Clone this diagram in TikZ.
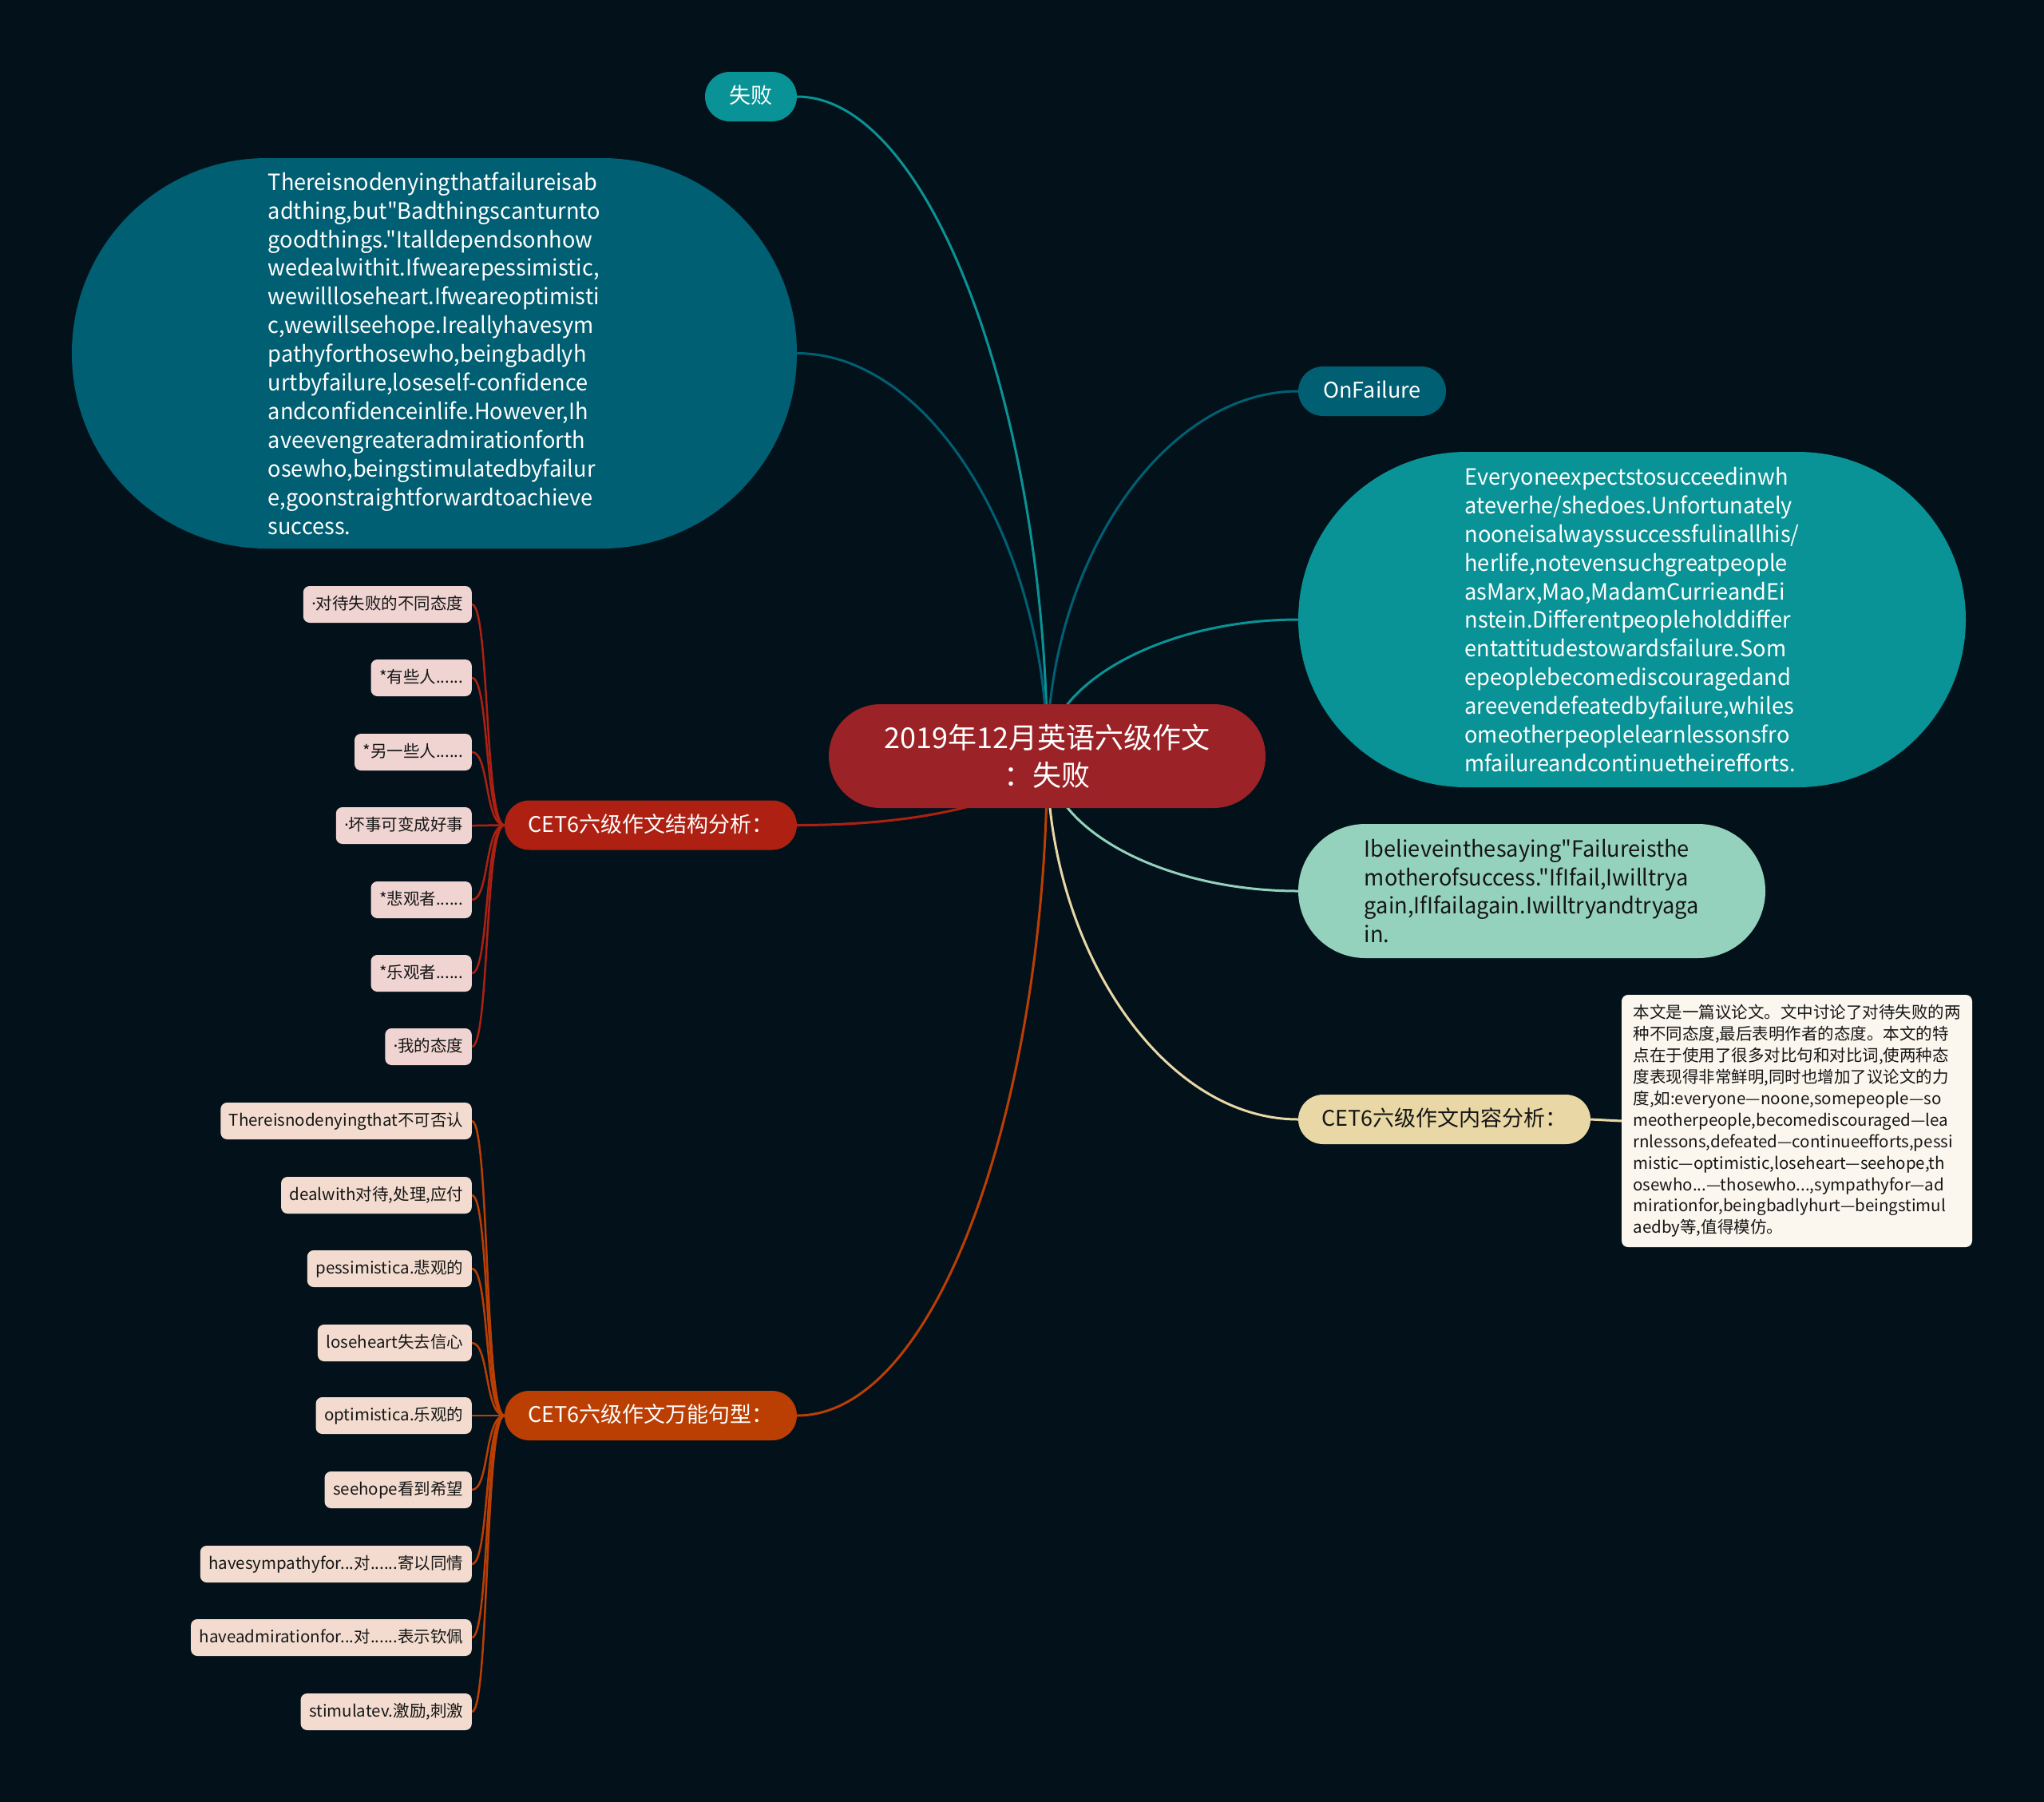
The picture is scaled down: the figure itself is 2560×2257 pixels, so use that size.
\documentclass[tikz,border=0pt]{standalone}
\usepackage{fontspec}
\setmainfont{Noto Sans CJK SC}[Ligatures=TeXOff]
\newfontfamily\bubblefont{Noto Sans CJK SC}[Ligatures=TeXOff, FakeStretch=0.97]
\newfontfamily\dotfont{Noto Sans}
\newcommand{\mdot}{{\dotfont ·}}
\usetikzlibrary{calc}
\definecolor{bgc}{HTML}{03121A}
\definecolor{cred}{HTML}{9B2226}
\definecolor{sred}{HTML}{AE2012}
\definecolor{worange}{HTML}{BB3E03}
\definecolor{cteal}{HTML}{0A9396}
\definecolor{dteal}{HTML}{005F73}
\definecolor{mint}{HTML}{94D2BD}
\definecolor{sand}{HTML}{E9D8A6}
\definecolor{sleaf}{HTML}{EFD4D2}
\definecolor{wleaf}{HTML}{F3DCCF}
\definecolor{notec}{HTML}{FBF7EE}
\definecolor{darktxt}{HTML}{161616}
\pgfdeclarelayer{bg}
\pgfdeclarelayer{edges}
\pgfsetlayers{bg,edges,main}
\tikzset{
  rootnode/.style={fill=cred, rounded corners=65pt, minimum width=547pt, minimum height=130pt,
    inner sep=0pt, align=center, text=white, font=\fontsize{36}{47}\selectfont},
  pill/.style={rounded corners=31pt, inner sep=0pt, minimum height=62pt, text=white,
    font=\fontsize{27}{32}\selectfont, text height=22pt, text depth=5pt},
  bubble/.style={inner sep=0pt, align=left, text=white, font=\bubblefont\fontsize{28}{35.9}\selectfont},
  sleafst/.style={fill=sleaf, rounded corners=8pt, minimum height=46pt, inner xsep=10.5pt,
    inner ysep=0pt, anchor=east, text=darktxt, font=\fontsize{20.5}{24}\selectfont,
    text height=16.5pt, text depth=3.5pt},
  wleafst/.style={sleafst, fill=wleaf},
  notest/.style={fill=notec, rounded corners=8pt, minimum width=439pt, minimum height=316pt,
    inner sep=0pt, align=left, text=darktxt, font=\fontsize{20.5}{26.9}\selectfont},
  mainline/.style={line width=3pt},
  leafline/.style={line width=2.5pt},
}
\begin{document}
\begin{tikzpicture}[x=1pt,y=-1pt]
\begin{pgfonlayer}{bg}
\fill[bgc] (0,0) rectangle (2560,2257);
\end{pgfonlayer}
\useasboundingbox (0,0) rectangle (2560,2257);

% root
\node[rootnode] (c) at (1311.5,947) {2019年12月英语六级作文\\：失败};

% first level
\node[pill, fill=cteal, minimum width=115pt] (f) at (940.5,121) {失败};
\node[pill, fill=dteal, minimum width=185pt] (of) at (1718.5,490) {OnFailure};
\node[pill, fill=sred, minimum width=366pt] (sa) at (815,1033.5) {CET6六级作文结构分析：};
\node[pill, fill=worange, minimum width=366pt] (wn) at (815,1773) {CET6六级作文万能句型：};
\node[pill, fill=sand, text=darktxt, minimum width=366pt] (ca) at (1809,1402) {CET6六级作文内容分析：};

% bubbles
\node[bubble, fill=dteal, minimum width=908pt, minimum height=489pt, rounded corners=244pt] (lb) at (544,442.5)
{Thereisnodenyingthatfailureisab\\
adthing,but"Badthingscanturnto\\
goodthings."Italldependsonhow\\
wedealwithit.Ifwearepessimistic,\\
wewillloseheart.Ifweareoptimisti\\
c,wewillseehope.Ireallyhavesym\\
pathyforthosewho,beingbadlyh\\
urtbyfailure,loseself-confidence\\
andconfidenceinlife.However,Ih\\
aveevengreateradmirationforth\\
osewho,beingstimulatedbyfailur\\
e,goonstraightforwardtoachieve\\
success.};

\node[bubble, fill=cteal, minimum width=836pt, minimum height=420pt, rounded corners=210pt] (rb) at (2044,776)
{Everyoneexpectstosucceedinwh\\
ateverhe/shedoes.Unfortunately\\
nooneisalwayssuccessfulinallhis/\\
herlife,notevensuchgreatpeople\\
asMarx,Mao,MadamCurrieandEi\\
nstein.Differentpeopleholddiffer\\
entattitudestowardsfailure.Som\\
epeoplebecomediscouragedand\\
areevendefeatedbyfailure,whiles\\
omeotherpeoplelearnlessonsfro\\
mfailureandcontinuetheirefforts.};

\node[bubble, fill=mint, text=darktxt, minimum width=585pt, minimum height=168pt, rounded corners=84pt] (lg) at (1918.5,1116)
{Ibelieveinthesaying"Failureisthe\\
motherofsuccess."IfIfail,Iwilltrya\\
gain,IfIfailagain.Iwilltryandtryaga\\
in.};

\node[notest] (nt) at (2250.5,1404)
{本文是一篇议论文。文中讨论了对待失败的两\\
种不同态度,最后表明作者的态度。本文的特\\
点在于使用了很多对比句和对比词,使两种态\\
度表现得非常鲜明,同时也增加了议论文的力\\
度,如:everyone—noone,somepeople—so\\
meotherpeople,becomediscouraged—lea\\
rnlessons,defeated—continueefforts,pessi\\
mistic—optimistic,loseheart—seehope,th\\
osewho...—thosewho...,sympathyfor—ad\\
mirationfor,beingbadlyhurt—beingstimul\\
aedby等,值得模仿。};

% structure leaves
\node[sleafst] (s1) at (591,757) {\mdot 对待失败的不同态度};
\node[sleafst] (s2) at (591,849) {*有些人......};
\node[sleafst] (s3) at (591,942) {*另一些人......};
\node[sleafst] (s4) at (591,1034) {\mdot 坏事可变成好事};
\node[sleafst] (s5) at (591,1127) {*悲观者......};
\node[sleafst] (s6) at (591,1219) {*乐观者......};
\node[sleafst] (s7) at (591,1311) {\mdot 我的态度};

% sentence leaves
\node[wleafst] (w1) at (591,1404) {Thereisnodenyingthat不可否认};
\node[wleafst] (w2) at (591,1497) {dealwith对待,处理,应付};
\node[wleafst] (w3) at (591,1589) {pessimistica.悲观的};
\node[wleafst] (w4) at (591,1682) {loseheart失去信心};
\node[wleafst] (w5) at (591,1773) {optimistica.乐观的};
\node[wleafst] (w6) at (591,1866) {seehope看到希望};
\node[wleafst] (w7) at (591,1959) {havesympathyfor...对......寄以同情};
\node[wleafst] (w8) at (591,2051) {haveadmirationfor...对......表示钦佩};
\node[wleafst] (w9) at (591,2144) {stimulatev.激励,刺激};

\begin{pgfonlayer}{edges}
\draw[mainline, cteal]   (f.east)  .. controls +(170,0)  and +(0,-420) .. (c.center);
\draw[mainline, dteal]   (lb.east) .. controls +(170,0)  and +(0,-260) .. (c.center);
\draw[mainline, dteal]   (of.west) .. controls +(-170,0) and +(0,-240) .. (c.center);
\draw[mainline, cteal]   (rb.west) .. controls +(-170,0) and +(0,-90)  .. (c.center);
\draw[mainline, mint]    (lg.west) .. controls +(-170,0) and +(0,90)   .. (c.center);
\draw[mainline, sand]    (ca.west) .. controls +(-170,0) and +(0,240)  .. (c.center);
\draw[mainline, sred]    (sa.east) .. controls +(200,0)  and +(0,40)   .. (c.center);
\draw[mainline, worange] (wn.east) .. controls +(180,0)  and +(0,420)  .. (c.center);
\draw[mainline, sand]    (ca.east) -- (nt.west);
\foreach \n in {s1,s2,s3,s4,s5,s6,s7}
  \draw[leafline, sred] (sa.west) .. controls +(-25,0) and +(22,0) .. (\n.east);
\foreach \n in {w1,w2,w3,w4,w5,w6,w7,w8,w9}
  \draw[leafline, worange] (wn.west) .. controls +(-25,0) and +(22,0) .. (\n.east);
\end{pgfonlayer}
\end{tikzpicture}
\end{document}
